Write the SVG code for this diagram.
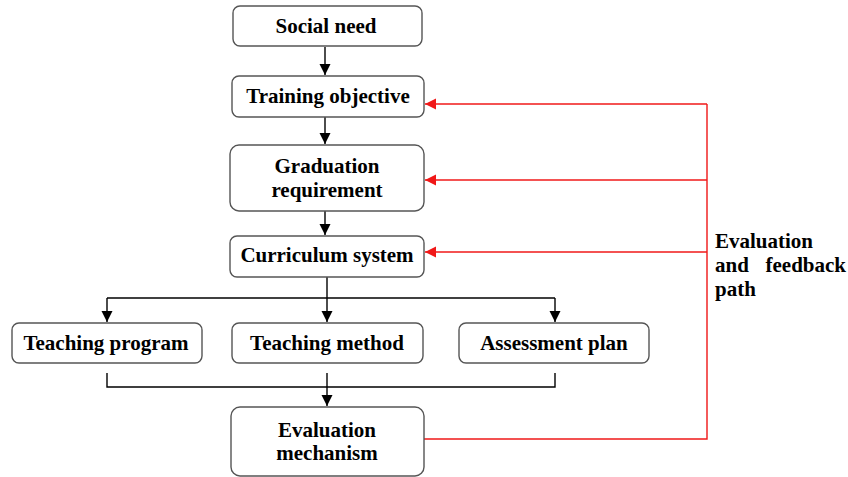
<svg xmlns="http://www.w3.org/2000/svg" width="848" height="477" viewBox="0 0 848 477">
<defs>
<style>
.box{fill:#fff;stroke:#555;stroke-width:1.4}
.t{font-family:"Liberation Serif","Times New Roman",serif;font-weight:bold;font-size:21px;fill:#000;text-anchor:middle}
.tl{font-family:"Liberation Serif","Times New Roman",serif;font-weight:bold;font-size:21px;fill:#000}
.k{stroke:#000;stroke-width:1.4;fill:none}
.r{stroke:#f01818;stroke-width:1.4;fill:none}
</style>
<marker id="ak" markerWidth="12" markerHeight="12" refX="11" refY="6" orient="auto" markerUnits="userSpaceOnUse">
<path d="M0,0.5 L11,6 L0,11.5 Z" fill="#000"/>
</marker>
<marker id="ar" markerWidth="12" markerHeight="12" refX="11" refY="6" orient="auto" markerUnits="userSpaceOnUse">
<path d="M0,0.5 L11,6 L0,11.5 Z" fill="#f01818"/>
</marker>
</defs>
<rect width="848" height="477" fill="#fff"/>
<g id="connectors">
<path class="k" d="M325,47 V75" marker-end="url(#ak)"/>
<path class="k" d="M325,117 V144" marker-end="url(#ak)"/>
<path class="k" d="M325,211 V235" marker-end="url(#ak)"/>
<path class="k" d="M327,277 V322" marker-end="url(#ak)"/>
<path class="k" d="M107,298 H555"/>
<path class="k" d="M107,298 V322" marker-end="url(#ak)"/>
<path class="k" d="M555,298 V322" marker-end="url(#ak)"/>
<path class="k" d="M107,373 V387 H555 V373" stroke="#333"/>
<path class="k" d="M327,373 V406" marker-end="url(#ak)"/>
<path class="r" d="M424,439 H707 V104"/>
<path class="r" d="M707,104 H425" marker-end="url(#ar)"/>
<path class="r" d="M707,180 H425" marker-end="url(#ar)"/>
<path class="r" d="M707,252 H425" marker-end="url(#ar)"/>
</g>
<g id="social-need">
<rect class="box" x="233" y="6" width="189" height="40" rx="7"/>
<text class="t" x="326" y="33">Social need</text>
</g>
<g id="training-objective">
<rect class="box" x="232" y="76" width="192" height="41" rx="7"/>
<text class="t" x="328" y="103">Training objective</text>
</g>
<g id="graduation-requirement">
<rect class="box" x="230" y="145" width="194" height="66" rx="9"/>
<text class="t" x="327" y="173">Graduation</text>
<text class="t" x="327" y="197">requirement</text>
</g>
<g id="curriculum-system">
<rect class="box" x="230" y="236" width="194" height="41" rx="7"/>
<text class="t" x="327" y="262">Curriculum system</text>
</g>
<g id="teaching-program">
<rect class="box" x="12" y="323" width="190" height="40" rx="7"/>
<text class="t" x="106" y="350">Teaching program</text>
</g>
<g id="teaching-method">
<rect class="box" x="232" y="323" width="191" height="40" rx="7"/>
<text class="t" x="327" y="350">Teaching method</text>
</g>
<g id="assessment-plan">
<rect class="box" x="459" y="323" width="190" height="40" rx="7"/>
<text class="t" x="554" y="350">Assessment plan</text>
</g>
<g id="evaluation-mechanism">
<rect class="box" x="231" y="407" width="193" height="69" rx="9"/>
<text class="t" x="327" y="437">Evaluation</text>
<text class="t" x="327" y="460">mechanism</text>
</g>
<g id="feedback-label">
<text class="tl" x="715" y="248">Evaluation</text>
<text class="tl" x="715" y="272">and</text>
<text class="tl" x="846" y="272" text-anchor="end">feedback</text>
<text class="tl" x="715" y="296">path</text>
</g>
</svg>
